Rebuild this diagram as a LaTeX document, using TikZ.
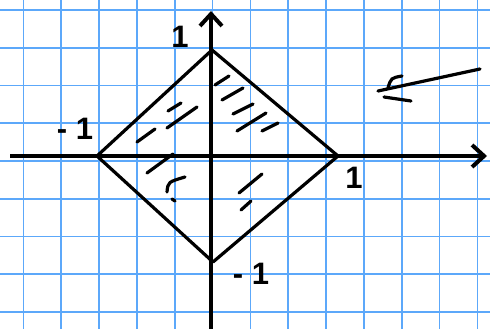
\documentclass[tikz,border=0pt]{standalone}
\usepackage{fontspec}
\setmainfont{Liberation Sans}
\usetikzlibrary{arrows.meta}
\definecolor{gridblue}{RGB}{92,168,250}

\begin{document}
\begin{tikzpicture}[
    x=1pt, y=-1pt,
    gridline/.style={draw=gridblue, line width=1.6pt},
    axis/.style={line width=4pt, -{Straight Barb[length=12pt, width=22pt]}},
    side/.style={line width=3.2pt, line join=round},
    hatch/.style={line width=3.2pt, line cap=round},
    lbl/.style={font=\bfseries\fontsize{31}{31}\selectfont, inner sep=0pt}
]
    \useasboundingbox[fill=white] (0,0) rectangle (490,329);

    % squared paper
    \foreach \k in {0,...,12}
        \draw[gridline] ({23.3+37.85*\k},0) -- ({23.3+37.85*\k},329);
    \foreach \k in {0,...,8}
        \draw[gridline] (0,{10+37.75*\k}) -- (490,{10+37.75*\k});

    % axes
    \coordinate (xstart) at (10,156);
    \coordinate (xend) at (487,156);
    \coordinate (ystart) at (211,329);
    \coordinate (yend) at (211,11);
    \draw[axis] (xstart) -- (xend);
    \draw[axis] (ystart) -- (yend);

    % unit ball
    \coordinate (top) at (212,50);
    \coordinate (right) at (338,156);
    \coordinate (bottom) at (213,262);
    \coordinate (left) at (97,156);
    \draw[side] (top) -- (right) -- (bottom) -- (left) -- cycle;

    % hatching
    \foreach \xa/\ya/\xb/\yb in {168/111/181/103, 167/128/197/107, 137/142/155/129,
        215/85/229/76, 222/100/243/88, 233/114/253/104, 237/131/266/113, 262/131/278/123,
        147/173/173/154, 239/193/262/174, 241/210/251/201, 172/199/175/201}
        \draw[hatch] (\xa,\ya) -- (\xb,\yb);
    \draw[hatch] (167,192) .. controls (168,182) .. (185,177);

    % labels
    \node[lbl] (ytop) at (180,37) {1};
    \node[lbl] (xleft) at (75,129) {- 1};
    \node[lbl] (xright) at (354,178) {1};
    \node[lbl] (ybottom) at (251,274) {- 1};

    % arrow on the right
    \coordinate (tail) at (480,69);
    \coordinate (tip) at (378,91);
    \draw[hatch] (tail) -- (tip);
    \draw[hatch] (388,88) .. controls (391,78) .. (402,76);
    \draw[hatch] (384,97) -- (411,101);
\end{tikzpicture}
\end{document}
